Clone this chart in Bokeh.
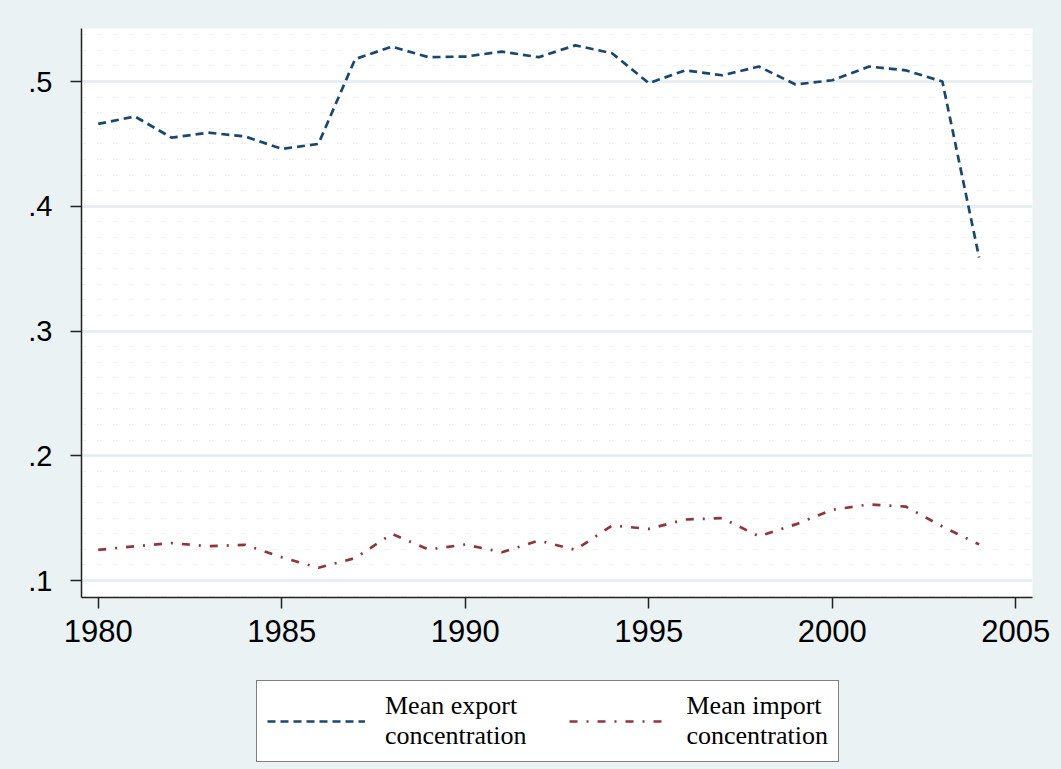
import numpy as np
from bokeh.plotting import figure
from bokeh.layouts import column
from bokeh.models import (Range1d, FixedTicker, Legend, LegendItem, ColumnDataSource)
from bokeh.core.properties import value
from bokeh.embed import file_html
from bokeh.resources import INLINE

# ---- data ----
years = [1980, 1981, 1982, 1983, 1984, 1985, 1986, 1987, 1988, 1989, 1990, 1991,
         1992, 1993, 1994, 1995, 1996, 1997, 1998, 1999, 2000, 2001, 2002, 2003, 2004]
export_conc = [0.466, 0.472, 0.455, 0.459, 0.456, 0.446, 0.450, 0.518, 0.528, 0.5195,
               0.520, 0.524, 0.5195, 0.529, 0.5227, 0.4987, 0.509, 0.505, 0.512, 0.4976,
               0.501, 0.512, 0.509, 0.500, 0.359]
import_conc = [0.1246, 0.1275, 0.130, 0.1275, 0.1286, 0.1187, 0.1102, 0.118, 0.1374, 0.1249,
               0.1289, 0.1227, 0.132, 0.1246, 0.1441, 0.1414, 0.1489, 0.150, 0.1355, 0.145,
               0.1567, 0.161, 0.1593, 0.1433, 0.129]
x_ticks = [1980, 1985, 1990, 1995, 2000, 2005]
y_ticks = [0.1, 0.2, 0.3, 0.4, 0.5]
y_tick_labels = [".1", ".2", ".3", ".4", ".5"]
series_labels = ["Mean export\nconcentration", "Mean import\nconcentration"]

BG = "#EAF2F3"
C_EXP = "#1A476F"
C_IMP = "#90353B"
EXP_DASH = "8 5"
IMP_DASH = "8 9 2 9"

src = ColumnDataSource(dict(year=years, exp=export_conc, imp=import_conc))

p = figure(width=1061, height=675, output_backend="svg", toolbar_location=None,
           x_range=Range1d(1979.545, 2005.455), y_range=Range1d(0.0864, 0.5425),
           min_border_left=81, min_border_right=29, min_border_top=28, min_border_bottom=78)

p.border_fill_color = BG
p.background_fill_color = "white"
p.outline_line_color = None

p.line("year", "exp", source=src, line_color=C_EXP, line_width=2.7, line_dash=EXP_DASH)
p.line("year", "imp", source=src, line_color=C_IMP, line_width=2.7, line_dash=IMP_DASH)

# axes
p.xaxis.ticker = FixedTicker(ticks=x_ticks)
minor = list(np.round(np.arange(0.0875, 0.5426, 0.0125), 5))
p.yaxis.ticker = FixedTicker(ticks=y_ticks, minor_ticks=minor)
p.yaxis.major_label_overrides = {t: l for t, l in zip(y_ticks, y_tick_labels)}

for ax in (p.xaxis[0], p.yaxis[0]):
    ax.axis_line_color = "#222222"
    ax.axis_line_width = 1.5
    ax.major_tick_line_color = "#222222"
    ax.major_tick_line_width = 1.5
    ax.major_tick_out = 11
    ax.major_tick_in = 0
    ax.minor_tick_out = 0
    ax.minor_tick_in = 0
    ax.major_label_text_font = "Liberation Sans"
    ax.major_label_text_color = "black"

p.yaxis.major_label_text_font_size = "29px"
p.yaxis.major_label_standoff = 18
p.xaxis.major_label_text_font_size = "31px"
p.xaxis.major_label_standoff = 11

# grids
p.xgrid.grid_line_color = None
p.ygrid.grid_line_color = "#E3ECEE"
p.ygrid.grid_line_width = 2.5
p.ygrid.minor_grid_line_color = "#D3DCDE"
p.ygrid.minor_grid_line_width = 1
p.ygrid.minor_grid_line_dash = "1 2 1 12"

# ---- legend strip below the plot ----
lg = figure(width=1061, height=94, output_backend="svg", toolbar_location=None,
            x_range=Range1d(0, 1), y_range=Range1d(0, 1),
            min_border_left=81, min_border_right=29, min_border_top=0, min_border_bottom=0)
lg.axis.visible = False
lg.grid.visible = False
lg.outline_line_color = None
lg.background_fill_color = BG
lg.border_fill_color = BG
dummy = ColumnDataSource(dict(x=[-5, -4], y=[-5, -5]))
d1 = lg.line("x", "y", source=dummy, line_color=C_EXP, line_width=2.7, line_dash=EXP_DASH)
d2 = lg.line("x", "y", source=dummy, line_color=C_IMP, line_width=2.7, line_dash=IMP_DASH)

legend = Legend(items=[LegendItem(label=value(series_labels[0]), renderers=[d1]),
                       LegendItem(label=value(series_labels[1]), renderers=[d2])],
                orientation="horizontal", location=(175, 7))
legend.label_text_font = "Liberation Serif"
legend.label_text_font_size = "26px"
legend.label_text_color = "black"
legend.label_standoff = 20
legend.glyph_width = 98
legend.glyph_height = 20
legend.spacing = 42
legend.padding = 10
legend.margin = 0
legend.border_line_color = "black"
legend.border_line_width = 1.2
legend.background_fill_color = "white"
legend.background_fill_alpha = 1.0
lg.add_layout(legend, "center")

layout = column(p, lg, spacing=0, styles={"background-color": BG})
open("out.html", "w").write(file_html(layout, INLINE))
